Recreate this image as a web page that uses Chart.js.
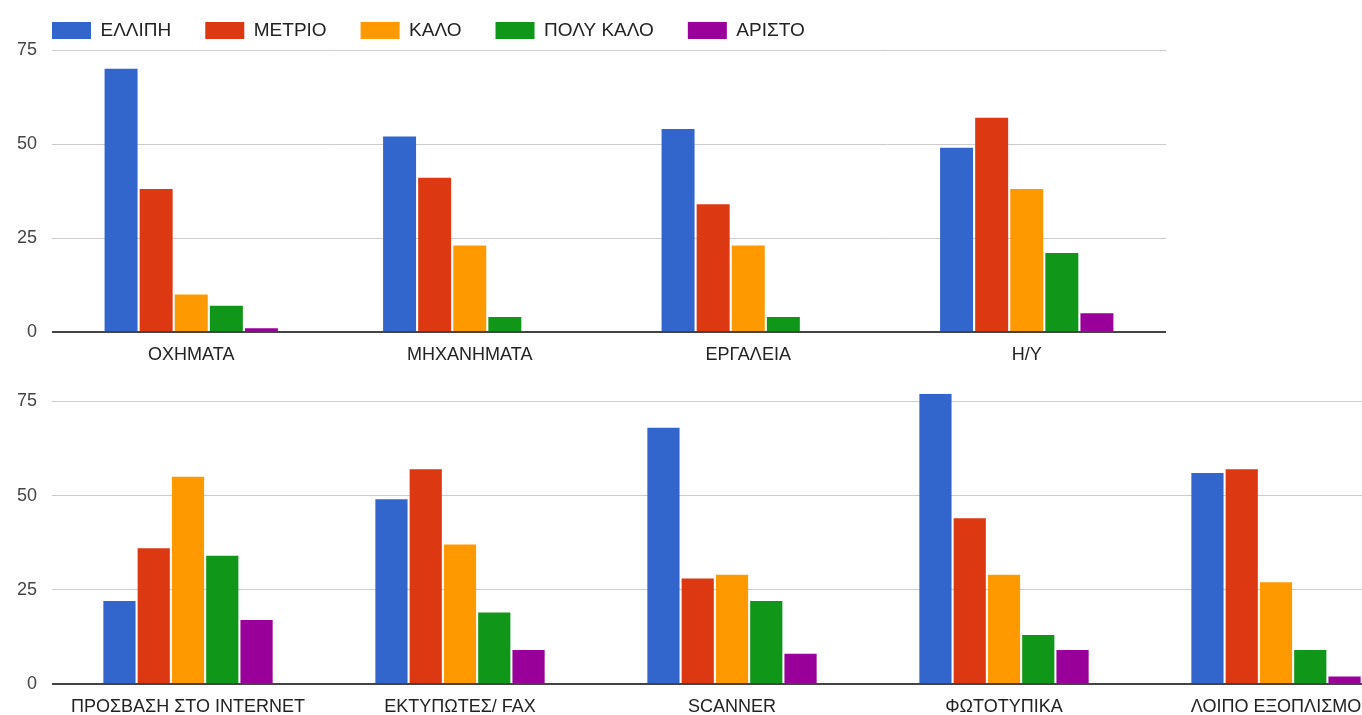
<!DOCTYPE html>
<html>
<head>
<meta charset="utf-8">
<title>Αξιολόγηση εξοπλισμού</title>
<script src="https://cdn.jsdelivr.net/npm/chart.js@4/dist/chart.umd.min.js"></script>
<style>
  html, body { margin: 0; padding: 0; background: #fff; overflow: hidden; width: 1362px; height: 715px; }
  .wrap { position: absolute; left: 0; }
  #topWrap { top: 0; }
  #bottomWrap { top: 368px; }
</style>
</head>
<body>
<div class="wrap" id="topWrap"><canvas id="topChart" width="1166" height="372"></canvas></div>
<div class="wrap" id="bottomWrap"><canvas id="bottomChart" width="1412" height="356"></canvas></div>
<script>
// rating levels (legend) and their colours
const ratings = ['ΕΛΛΙΠΗ', 'ΜΕΤΡΙΟ', 'ΚΑΛΟ', 'ΠΟΛΥ ΚΑΛΟ', 'ΑΡΙΣΤΟ'];
const ratingColors = ['#3366cc', '#dc3912', '#ff9900', '#109618', '#990099'];

// first group of equipment
const topCategories = ['ΟΧΗΜΑΤΑ', 'ΜΗΧΑΝΗΜΑΤΑ', 'ΕΡΓΑΛΕΙΑ', 'Η/Υ'];
const topElliph = [70, 52, 54, 49];
const topMetrio = [38, 41, 34, 57];
const topKalo = [10, 23, 23, 38];
const topPolyKalo = [7, 4, 4, 21];
const topAristo = [1, 0, 0, 5];

// second group of equipment
const bottomCategories = ['ΠΡΟΣΒΑΣΗ ΣΤΟ INTERNET', 'ΕΚΤΥΠΩΤΕΣ/ FAX', 'SCANNER', 'ΦΩΤΟΤΥΠΙΚΑ', 'ΛΟΙΠΟ ΕΞΟΠΛΙΣΜΟ'];
const bottomElliph = [22, 49, 68, 77, 56];
const bottomMetrio = [36, 57, 28, 44, 57];
const bottomKalo = [55, 37, 29, 29, 27];
const bottomPolyKalo = [34, 19, 22, 13, 9];
const bottomAristo = [17, 9, 8, 9, 2];

const yTickValues = [0, 25, 50, 75];

Chart.defaults.font.family = '"Liberation Sans", Arial, sans-serif';
Chart.defaults.color = '#222';
Chart.defaults.animation = false;

function makeDatasets(series) {
    return series.map((values, i) => ({
        label: ratings[i],
        data: values,
        backgroundColor: ratingColors[i],
        borderWidth: 0,
        categoryPercentage: 0.63,
        barPercentage: 0.94
    }));
}

function yAxis(max) {
    return {
        min: 0,
        max: max,
        border: { display: false },
        grid: {
            drawTicks: false,
            color: ctx => ctx.tick.value === 0 ? '#444' : '#cccccc',
            lineWidth: ctx => ctx.tick.value === 0 ? 2 : 1
        },
        ticks: { stepSize: 25, padding: 15, color: '#444', font: { size: 18 } },
        // keep only the round ticks
        afterBuildTicks: axis => {
            axis.ticks = yTickValues.map(v => ({ value: v }));
        },
        afterFit: axis => { axis.width = 34; }
    };
}

function xAxis() {
    return {
        grid: { display: false, drawTicks: false },
        border: { display: false },
        ticks: { padding: 12, color: '#222', font: { size: 18 }, autoSkip: false, maxRotation: 0 },
        afterFit: axis => { axis.height = 40; }
    };
}

const topCtx = document.getElementById('topChart').getContext('2d');
const topChart = new Chart(topCtx, {
    type: 'bar',
    data: {
        labels: topCategories,
        datasets: makeDatasets([topElliph, topMetrio, topKalo, topPolyKalo, topAristo])
    },
    options: {
        responsive: false,
        layout: { padding: { top: -13, left: 18 } },
        plugins: {
            legend: {
                position: 'top',
                align: 'start',
                labels: { boxWidth: 39, boxHeight: 17, padding: 34, color: '#222', font: { size: 19 } }
            },
            tooltip: { enabled: false }
        },
        scales: { x: xAxis(), y: yAxis(75) }
    }
});

const bottomCtx = document.getElementById('bottomChart').getContext('2d');
const bottomChart = new Chart(bottomCtx, {
    type: 'bar',
    data: {
        labels: bottomCategories,
        datasets: makeDatasets([bottomElliph, bottomMetrio, bottomKalo, bottomPolyKalo, bottomAristo])
    },
    options: {
        responsive: false,
        layout: { padding: { top: 11, left: 18 } },
        plugins: {
            legend: { display: false },
            tooltip: { enabled: false }
        },
        scales: { x: xAxis(), y: yAxis(77) }
    }
});
</script>
</body>
</html>
